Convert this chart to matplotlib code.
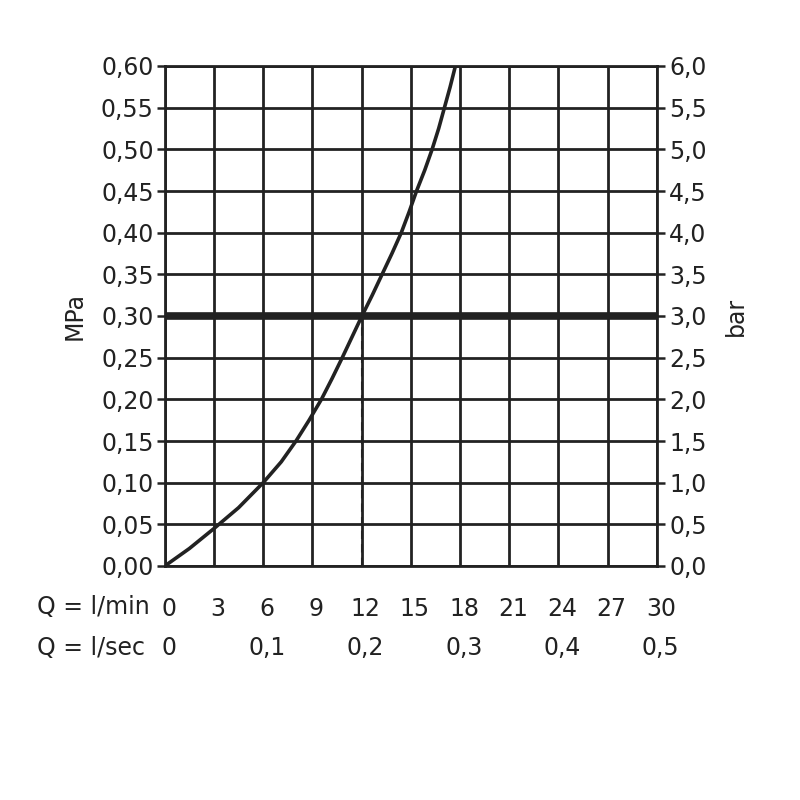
import matplotlib
matplotlib.use("Agg")
import matplotlib.pyplot as plt
import matplotlib.transforms as mtransforms

# Data
flow_lmin = [0, 1.5, 3.0, 4.5, 6.0, 7.1, 8.0, 8.8, 9.55, 10.2, 10.82, 11.42, 12.02,
             12.65, 13.25, 13.85, 14.42, 14.9, 15.35, 15.85, 16.3, 16.7, 17.05, 17.4, 17.72]
pressure_mpa = [0, 0.021, 0.045, 0.07, 0.10, 0.125, 0.15, 0.175, 0.20, 0.225, 0.25, 0.275, 0.30,
                0.325, 0.35, 0.375, 0.40, 0.425, 0.45, 0.475, 0.50, 0.525, 0.55, 0.575, 0.60]

xticks_lmin = [0, 3, 6, 9, 12, 15, 18, 21, 24, 27, 30]
lsec_labels = ["0", "0,1", "0,2", "0,3", "0,4", "0,5"]
lsec_pos_lmin = [0, 6, 12, 18, 24, 30]
yticks_mpa = [0.00, 0.05, 0.10, 0.15, 0.20, 0.25, 0.30, 0.35, 0.40, 0.45, 0.50, 0.55, 0.60]
ref_pressure = 0.30
ref_flow = 12

dark = "#222222"
fs = 17
plt.rcParams['font.family'] = ['DejaVu Sans']

fig = plt.figure(figsize=(8, 8), dpi=100)
ax = fig.add_axes([0.206, 0.2925, 0.615, 0.625])
ax.set_xlim(0, 30)
ax.set_ylim(0, 0.6)

ax.set_xticks(xticks_lmin)
ax.set_yticks(yticks_mpa)
ax.grid(True, color=dark, linewidth=2.0)
ax.set_axisbelow(True)
for s in ax.spines.values():
    s.set_color(dark)
    s.set_linewidth(2.0)

ax.set_yticklabels([f"{v:.2f}".replace(".", ",") for v in yticks_mpa], fontsize=fs, color=dark)
ax.set_xticklabels([str(v) for v in xticks_lmin], fontsize=fs, color=dark)
ax.tick_params(axis='y', length=6, width=1.8, color=dark, pad=2)
ax.tick_params(axis='x', length=0, pad=22)
offset = mtransforms.ScaledTranslation(4 / 100, 0, fig.dpi_scale_trans)
for lab in ax.get_xticklabels():
    lab.set_transform(lab.get_transform() + offset)

ax.set_ylabel("MPa", fontsize=fs, color=dark, labelpad=10)

ax2 = ax.twinx()
ax2.set_ylim(0, 6.0)
bar_ticks = [v * 10 for v in yticks_mpa]
ax2.set_yticks(bar_ticks)
ax2.set_yticklabels([f"{v:.1f}".replace(".", ",") for v in bar_ticks], fontsize=fs, color=dark)
ax2.tick_params(axis='y', length=6, width=1.8, color=dark, pad=3)
ax2.set_ylabel("bar", fontsize=fs, color=dark, labelpad=12)
for s in ax2.spines.values():
    s.set_visible(False)

# curve
ax.plot(flow_lmin, pressure_mpa, color=dark, linewidth=2.6, solid_capstyle='butt',
        solid_joinstyle='round', zorder=5)
# thick reference line
ax.axhline(ref_pressure, color=dark, linewidth=5.5, zorder=4)
# dashed vertical
ax.plot([ref_flow, ref_flow], [0, ref_pressure], color=dark, linewidth=1.5,
        linestyle=(0, (4, 2.5)), zorder=4)

# axis row labels
fig.text(37 / 800, 1 - 607 / 800, "Q = l/min", ha='left', va='center', fontsize=fs, color=dark)
fig.text(37 / 800, 1 - 648 / 800, "Q = l/sec", ha='left', va='center', fontsize=fs, color=dark)
trans = ax.get_xaxis_transform() + offset
for pos, lab in zip(lsec_pos_lmin, lsec_labels):
    ax.text(pos, 0, lab, transform=trans + mtransforms.ScaledTranslation(0, -82 / 100, fig.dpi_scale_trans),
            ha='center', va='center', fontsize=fs, color=dark)

fig.savefig("out.png", dpi=100)
